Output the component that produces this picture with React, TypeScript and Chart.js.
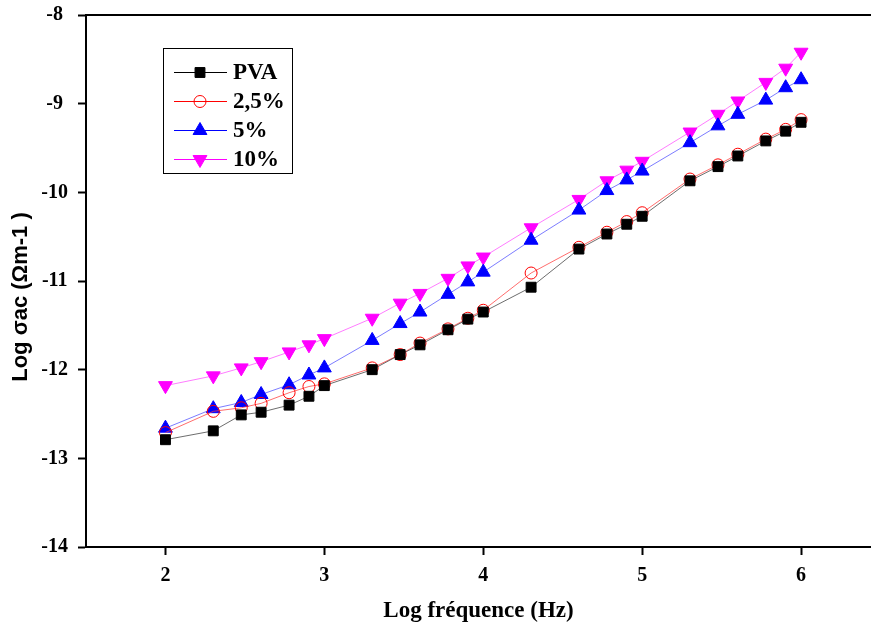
import React, { useEffect, useRef } from "react";
import { Chart, registerables } from "chart.js";

Chart.register(...registerables);

const logFreq = [2, 2.301, 2.477, 2.602, 2.778, 2.903, 3, 3.301, 3.477, 3.602, 3.778, 3.903, 4, 4.301, 4.602, 4.778, 4.903, 5, 5.301, 5.477, 5.602, 5.778, 5.903, 6];
const pva = [-12.79, -12.69, -12.51, -12.48, -12.4, -12.3, -12.18, -12.0, -11.83, -11.72, -11.55, -11.43, -11.35, -11.07, -10.64, -10.47, -10.36, -10.27, -9.87, -9.71, -9.59, -9.42, -9.31, -9.21];
const pct25 = [-12.71, -12.47, -12.43, -12.38, -12.26, -12.19, -12.16, -11.98, -11.83, -11.7, -11.54, -11.42, -11.33, -10.91, -10.62, -10.45, -10.33, -10.23, -9.85, -9.69, -9.57, -9.4, -9.29, -9.18];
const pct5 = [-12.66, -12.44, -12.37, -12.28, -12.17, -12.06, -11.98, -11.67, -11.48, -11.35, -11.15, -11.01, -10.9, -10.54, -10.2, -9.98, -9.86, -9.76, -9.44, -9.25, -9.12, -8.96, -8.82, -8.73];
const pct10 = [-12.18, -12.07, -11.98, -11.91, -11.8, -11.72, -11.65, -11.42, -11.25, -11.14, -10.97, -10.83, -10.73, -10.4, -10.08, -9.87, -9.75, -9.65, -9.32, -9.12, -8.97, -8.76, -8.6, -8.42];

const seriesLabels = ["PVA", "2,5%", "5%", "10%"];
const xTicks = [2, 3, 4, 5, 6];
const xTitle = "Log fréquence (Hz)";
const yTitle = "Log σac (Ωm-1 )";

const toXY = (ys: number[]) => ys.map((y, i) => ({ x: logFreq[i], y }));

function drawMarker(ctx: CanvasRenderingContext2D, style: string, x: number, y: number, r: number, fill: string, stroke: string, rot: number) {
  ctx.save();
  ctx.beginPath();
  if (style === "rect") {
    const s = Math.SQRT1_2 * r;
    ctx.rect(x - s, y - s, 2 * s, 2 * s);
  } else if (style === "circle") {
    ctx.arc(x, y, r, 0, Math.PI * 2);
  } else {
    let rad = (rot * Math.PI) / 180;
    ctx.moveTo(x + Math.sin(rad) * r, y - Math.cos(rad) * r);
    rad += (2 * Math.PI) / 3;
    ctx.lineTo(x + Math.sin(rad) * r, y - Math.cos(rad) * r);
    rad += (2 * Math.PI) / 3;
    ctx.lineTo(x + Math.sin(rad) * r, y - Math.cos(rad) * r);
    ctx.closePath();
  }
  if (fill !== "transparent") {
    ctx.fillStyle = fill;
    ctx.fill();
  }
  ctx.strokeStyle = stroke;
  ctx.lineWidth = 1;
  ctx.stroke();
  ctx.restore();
}

const legendColors = ["#000000", "#ff0000", "#0000ff", "#ff00ff"];

const legendPlugin = {
  id: "boxLegend",
  afterDraw(chart: any) {
    const ctx = chart.ctx as CanvasRenderingContext2D;
    ctx.save();
    ctx.strokeStyle = "#000";
    ctx.lineWidth = 1;
    ctx.strokeRect(163.5, 48.5, 129, 125);
    const rows = [72, 101, 130, 159];
    chart.data.datasets.forEach((ds: any, i: number) => {
      const y = rows[i];
      ctx.strokeStyle = legendColors[i];
      ctx.lineWidth = 1;
      ctx.beginPath();
      ctx.moveTo(174, y + 0.5);
      ctx.lineTo(227, y + 0.5);
      ctx.stroke();
      drawMarker(ctx, ds.pointStyle, 200, y + 0.5, ds.pointRadius, ds.pointBackgroundColor, ds.pointBorderColor, ds.pointRotation || 0);
      ctx.fillStyle = "#000";
      ctx.font = "bold 23px 'Liberation Serif'";
      ctx.textAlign = "left";
      ctx.textBaseline = "middle";
      ctx.fillText(ds.label, 233, y + 1);
    });
    ctx.restore();
  },
};

const framePlugin = {
  id: "frameAndTitle",
  afterDraw(chart: any) {
    const { ctx, chartArea } = chart;
    ctx.save();
    ctx.strokeStyle = "#000";
    ctx.lineWidth = 2;
    ctx.beginPath();
    ctx.moveTo(chartArea.left, chartArea.top);
    ctx.lineTo(chart.width, chartArea.top);
    ctx.stroke();
    // y-axis title
    ctx.translate(21, 297);
    ctx.rotate(-Math.PI / 2);
    ctx.fillStyle = "#000";
    ctx.font = "bold 22px 'Liberation Sans'";
    ctx.textAlign = "center";
    ctx.textBaseline = "middle";
    ctx.fillText(yTitle, 0, 0);
    ctx.restore();
  },
};

export default function App() {
  const ref = useRef<HTMLCanvasElement | null>(null);
  useEffect(() => {
    if (!ref.current) return;
    const tickFont = { family: "'Liberation Serif'", size: 20, weight: "bold" as const };
    const chart = new Chart(ref.current, {
      type: "line",
      data: {
        datasets: [
          {
            label: seriesLabels[0],
            data: toXY(pva),
            borderColor: "rgba(60,60,60,0.75)",
            borderWidth: 1,
            pointStyle: "rect",
            pointRadius: 7,
            pointBackgroundColor: "#000000",
            pointBorderColor: "#000000",
            pointBorderWidth: 1,
          },
          {
            label: seriesLabels[1],
            data: toXY(pct25),
            borderColor: "rgba(255,60,60,0.75)",
            borderWidth: 1,
            pointStyle: "circle",
            pointRadius: 6,
            pointBackgroundColor: "transparent",
            pointBorderColor: "#ff0000",
            pointBorderWidth: 1,
          },
          {
            label: seriesLabels[2],
            data: toXY(pct5),
            borderColor: "rgba(80,80,255,0.75)",
            borderWidth: 1,
            pointStyle: "triangle",
            pointRadius: 8,
            pointBackgroundColor: "#0000ff",
            pointBorderColor: "#0000ff",
            pointBorderWidth: 1,
          },
          {
            label: seriesLabels[3],
            data: toXY(pct10),
            borderColor: "rgba(255,80,255,0.75)",
            borderWidth: 1,
            pointStyle: "triangle",
            pointRotation: 180,
            pointRadius: 8,
            pointBackgroundColor: "#ff00ff",
            pointBorderColor: "#ff00ff",
            pointBorderWidth: 1,
          },
        ] as any,
      },
      options: {
        animation: false,
        responsive: false,
        maintainAspectRatio: false,
        layout: { autoPadding: false, padding: { top: 15, left: 0, right: 0, bottom: 0 } },
        plugins: { legend: { display: false }, tooltip: { enabled: false } },
        elements: { line: { tension: 0 } },
        scales: {
          x: {
            type: "linear",
            min: 1.5,
            max: 6.44,
            afterBuildTicks: (s: any) => {
              s.ticks = xTicks.map((v) => ({ value: v }));
            },
            afterFit: (s: any) => {
              s.height = 81;
              s.paddingLeft = 0;
              s.paddingRight = 0;
            },
            grid: { drawOnChartArea: false, drawTicks: true, tickLength: 8, tickColor: "#000", tickWidth: 2 },
            border: { display: true, color: "#000", width: 2 },
            ticks: { color: "#000", font: tickFont, padding: 9, maxRotation: 0 },
            title: {
              display: true,
              text: xTitle,
              color: "#000",
              font: { family: "'Liberation Serif'", size: 23, weight: "bold" },
              padding: { top: 0, bottom: 3 },
            },
          },
          y: {
            type: "linear",
            min: -14,
            max: -8,
            afterFit: (s: any) => {
              s.width = 86;
              s.paddingTop = 0;
              s.paddingBottom = 0;
            },
            grid: { drawOnChartArea: false, drawTicks: true, tickLength: 8, tickColor: "#000", tickWidth: 2 },
            border: { display: true, color: "#000", width: 2 },
            ticks: { color: "#000", font: tickFont, padding: 10, stepSize: 1, crossAlign: "center" },
            title: { display: false, text: yTitle },
          },
        },
      } as any,
      plugins: [legendPlugin, framePlugin],
    });
    return () => chart.destroy();
  }, []);
  return (
    <div style={{ position: "fixed", left: 0, top: 0, width: 871, height: 628, background: "#fff" }}>
      <canvas ref={ref} width={871} height={628} style={{ width: 871, height: 628 }} />
    </div>
  );
}
